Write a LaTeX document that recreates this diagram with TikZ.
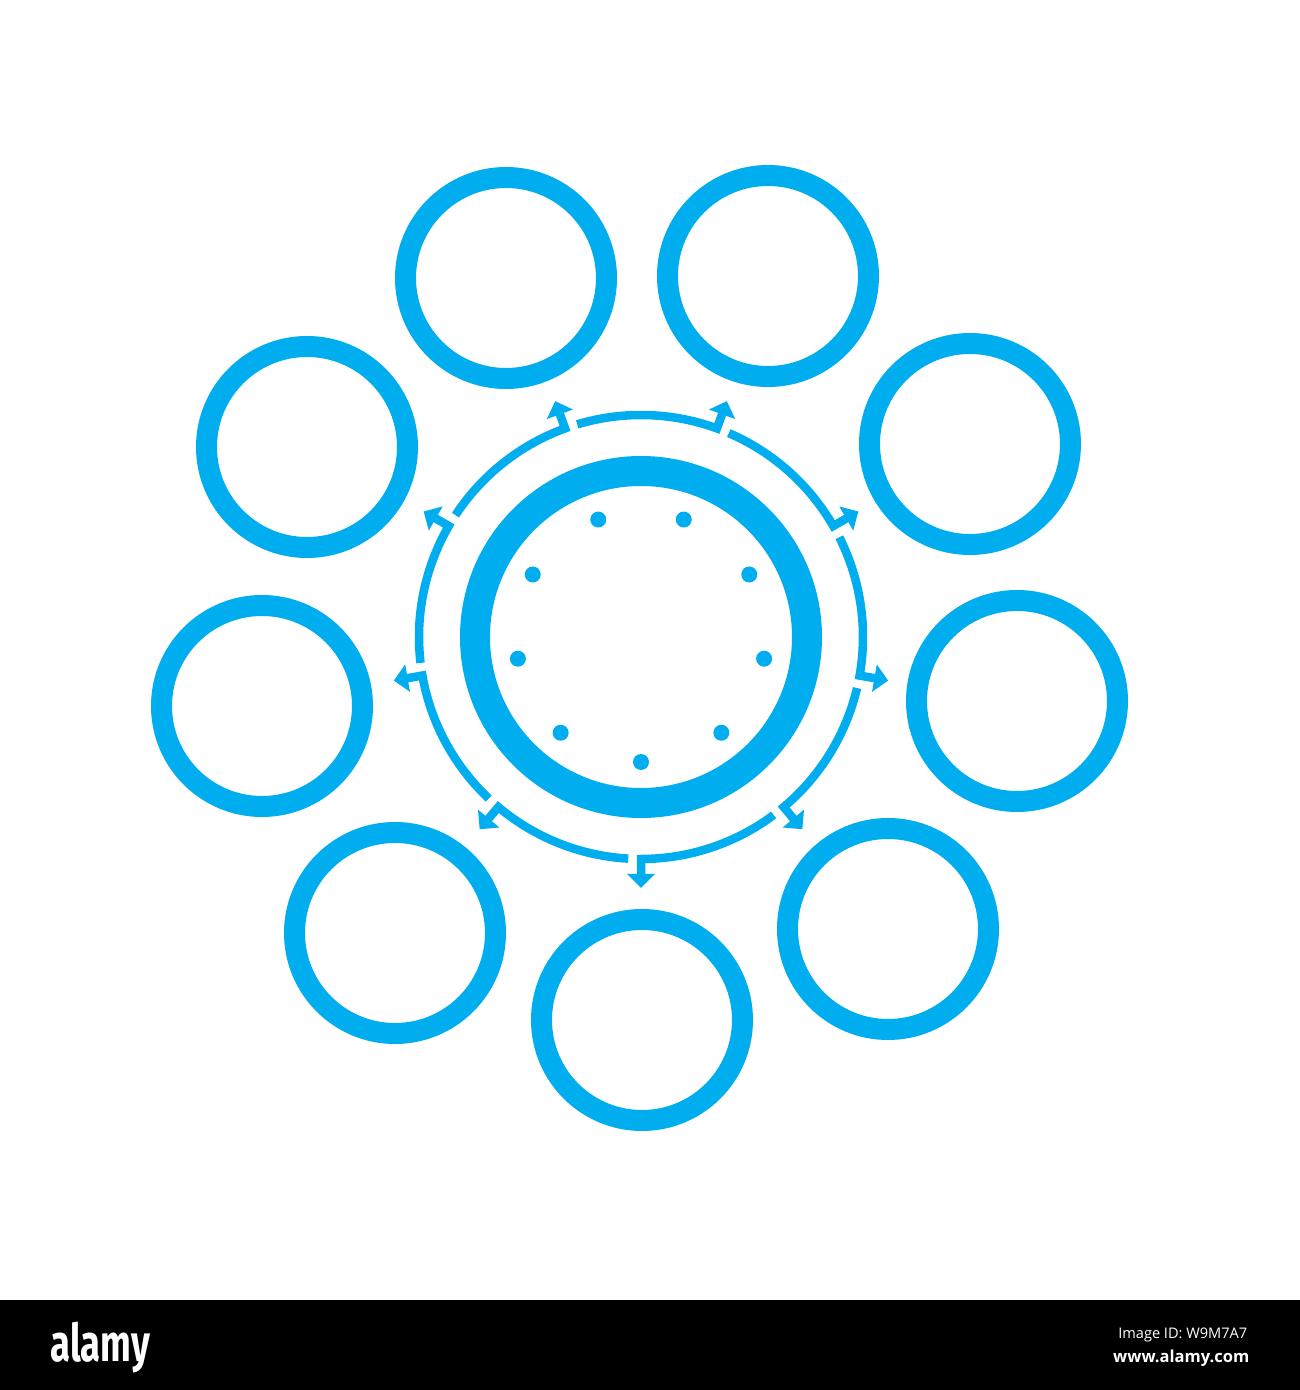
\documentclass[tikz,border=0pt]{standalone}
\usepackage{fontspec}
\usepackage{graphicx}
\usetikzlibrary{arrows.meta}
\newfontfamily\wmfont{Open Sans}
\newfontfamily\logofont{Fira Sans}
\definecolor{cyanb}{RGB}{0,174,239}
\begin{document}
\begin{tikzpicture}[
  sat/.style={circle, draw=cyanb, line width=0.21cm, minimum size=2.01cm, inner sep=0pt},
  hub/.style={circle, draw=cyanb, line width=0.30cm, minimum size=3.32cm, inner sep=0pt},
  dotmark/.style={circle, fill=cyanb, minimum size=0.16cm, inner sep=0pt},
  flow/.style={draw=cyanb, line width=0.085cm, line join=miter, -{Triangle[length=0.14cm,width=0.27cm]}},
  wm/.style={inner sep=0pt, text=white}
]
\useasboundingbox (0,0) rectangle (13,13.9);
\fill[white] (0,0) rectangle (13,13.9);
\fill[black] (0,0) rectangle (13,0.90);
% satellites
\foreach \x/\y [count=\i] in {5.06/11.12, 7.68/11.14, 9.70/9.46, 10.17/6.89, 8.88/4.61, 6.42/3.70, 3.95/4.57, 2.62/6.84, 3.07/9.43} {
  \node[sat] (s\i) at (\x,\y) {};
}
\begin{scope}[shift={(6.41,7.53)}]
  \node[hub] (hub) at (0,0) {};
  \foreach \a [count=\i] in {110,70,30,-10,-50,-90,-130,-170,150} {
    \node[dotmark] (d\i) at (\a:1.25) {};
    \coordinate (b\i) at (\a+36.7:2.22);
    \coordinate (t\i) at (\a:2.51);
    \draw[flow] (b\i) arc[start angle=\a+36.7, end angle=\a, radius=2.22cm] -- (t\i);
  }
\end{scope}
% watermark bar
\node[wm, anchor=base west] (logo) at (0.50,0.29) {\scalebox{0.70}[1]{\logofont\bfseries\fontsize{14.8pt}{15pt}\selectfont alamy}};
\node[wm, anchor=base east] (imgid) at (12.48,0.52) {\wmfont\fontsize{4.15pt}{5pt}\selectfont Image ID: W9M7A7};
\node[wm, anchor=base east] (web) at (12.50,0.28) {\wmfont\bfseries\fontsize{4.7pt}{6pt}\selectfont www.alamy.com};
\end{tikzpicture}
\end{document}
